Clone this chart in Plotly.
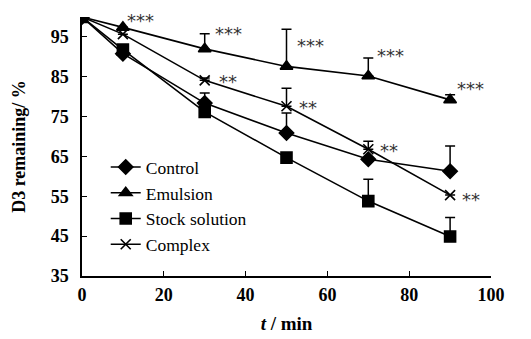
import plotly.graph_objects as go

time = [0, 10, 30, 50, 70, 90]
control = [100, 90.8, 78.4, 70.9, 64.3, 61.3]
control_err = [0, 0, 2.5, 5.0, 0, 6.3]
emulsion = [100, 97.4, 92.0, 87.6, 85.2, 79.2]
emulsion_err = [0, 0, 3.8, 9.3, 4.5, 1.3]
stock = [100, 91.8, 76.2, 64.7, 53.8, 44.9]
stock_err = [0, 0, 0, 0, 5.5, 4.8]
complex_ = [100, 95.7, 84.1, 77.6, 66.8, 55.3]
complex_err = [0, 0, 0.6, 4.5, 2.0, 0]

emulsion_sig = ["", "***", "***", "***", "***", "***"]
complex_sig = ["", "", "**", "**", "**", "**"]

# label offsets in pixels (style, not data)
emu_dx = [0, 2, 8, 8, 7, 5]
emu_dy = [0, 10, 3, -13, 6, 9]
cpx_dx = [0, 0, 12, 10, 10, 10]
cpx_dy = [0, 0, 2, 2, 2, -1]

SERIF = "Liberation Serif, Times New Roman, serif"

series = [
    ("Control", control, control_err, "diamond", 11),
    ("Emulsion", emulsion, emulsion_err, "triangle-up", 11),
    ("Stock solution", stock, stock_err, "square", 11),
    ("Complex", complex_, complex_err, "x-thin-open", 10),
]

fig = go.Figure()
for name, ys, errs, sym, size in series:
    fig.add_trace(go.Scatter(
        x=time, y=ys, name=name, mode="lines+markers",
        line=dict(color="black", width=1.6),
        marker=dict(symbol=sym, size=size, color="black",
                    line=dict(color="black", width=1.6)),
        error_y=dict(type="data", symmetric=False, array=errs,
                     arrayminus=[0] * len(errs), color="black",
                     thickness=1.5, width=5),
    ))

star_font = dict(family="DejaVu Sans", size=18, color="#333")
ann = []
for t, y, e, s, dx, dy in zip(time, emulsion, emulsion_err, emulsion_sig, emu_dx, emu_dy):
    if s:
        ann.append(dict(x=t, y=y + e, text=s, showarrow=False,
                        xanchor="left", yanchor="middle", xshift=dx, yshift=dy - 3,
                        font=star_font))
for t, y, s, dx, dy in zip(time, complex_, complex_sig, cpx_dx, cpx_dy):
    if s:
        ann.append(dict(x=t, y=y, text=s, showarrow=False,
                        xanchor="left", yanchor="middle", xshift=dx, yshift=dy - 3,
                        font=star_font))

# page body has an 8px margin, so the figure is shrunk and shifted accordingly
fig.update_layout(
    width=523, height=331,
    margin=dict(l=74, r=40, t=9, b=63),
    paper_bgcolor="white", plot_bgcolor="white",
    font=dict(family=SERIF, color="black"),
    showlegend=True,
    legend=dict(x=0.058, y=0.49, xanchor="left", yanchor="top",
                font=dict(family=SERIF, size=17.5, color="black"),
                bgcolor="rgba(0,0,0,0)", tracegroupgap=0),
    annotations=ann,
    xaxis=dict(range=[0, 100], tickvals=[0, 20, 40, 60, 80, 100],
               showline=True, linecolor="black", linewidth=1.5,
               ticks="inside", ticklen=5, tickcolor="black",
               showgrid=False, zeroline=False, automargin=False,
               ticklabelstandoff=2,
               tickfont=dict(family=SERIF, size=18, color="black", weight="bold"),
               title=dict(text="<b><i>t</i> / min</b>", standoff=12,
                          font=dict(family=SERIF, size=19, color="black"))),
    yaxis=dict(range=[35, 100], tickvals=[35, 45, 55, 65, 75, 85, 95],
               showline=True, linecolor="black", linewidth=1.5,
               ticks="inside", ticklen=5, tickcolor="black",
               showgrid=False, zeroline=False, automargin=False,
               ticklabelstandoff=8,
               tickfont=dict(family=SERIF, size=18, color="black", weight="bold"),
               title=dict(text="<b>D3 remaining/ %</b>", standoff=20,
                          font=dict(family=SERIF, size=18, color="black"))),
)

fig.write_html("out.html")
